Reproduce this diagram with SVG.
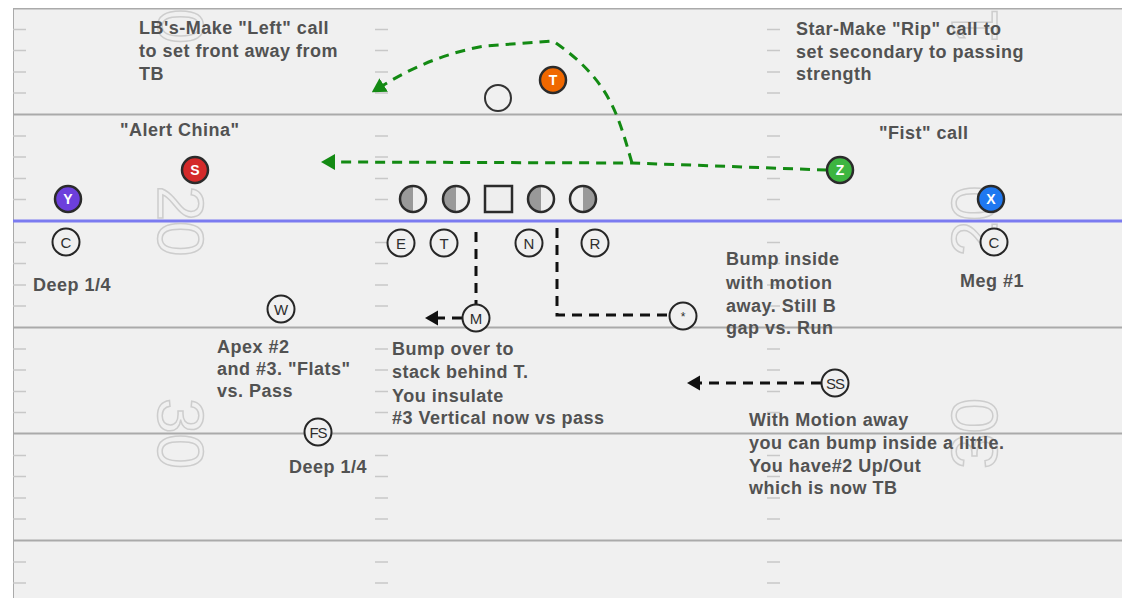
<svg xmlns="http://www.w3.org/2000/svg" width="1122" height="598" viewBox="0 0 1122 598">
  <defs>
    <style>
      .yard { stroke: #aaa; stroke-width: 2; fill: none; }
      .los { stroke: #7b7bf0; stroke-width: 3; fill: none; }
      .hash { stroke: #c8c8c8; stroke-width: 1.5; fill: none; }
      .num { font-family: "Liberation Sans", Arial, sans-serif; font-size: 64px; fill: none; stroke: #cdcdcd; stroke-width: 1.5; text-anchor: middle; }
      .note { font-family: "Liberation Sans", Arial, sans-serif; font-size: 18px; font-weight: bold; fill: #525252; letter-spacing: 0.5px; }
      .off circle { stroke: #2b2b2b; stroke-width: 2.5; }
      .off text { font-family: "Liberation Sans", Arial, sans-serif; font-size: 14px; font-weight: bold; fill: #fff; text-anchor: middle; }
      .def circle { fill: #f0f0f0; stroke: #262626; stroke-width: 2; }
      .def text { font-family: "Liberation Sans", Arial, sans-serif; font-size: 15px; fill: #2e2e2e; text-anchor: middle; }
      .lineman { stroke: #2b2b2b; stroke-width: 2.5; }
      .green { stroke: #138a13; stroke-width: 3; stroke-dasharray: 10 7; fill: none; }
      .black { stroke: #111; stroke-width: 3; stroke-dasharray: 10 7; fill: none; }
    </style>
    <clipPath id="field-clip">
      <rect x="13" y="8" width="1109" height="590"/>
    </clipPath>
    <marker id="arrow-green" viewBox="0 0 14 16" refX="2" refY="8" markerWidth="14" markerHeight="16" markerUnits="userSpaceOnUse" orient="auto">
      <path d="M0,0 L14,8 L0,16 z" fill="#138a13"/>
    </marker>
    <marker id="arrow-black" viewBox="0 0 13 16" refX="2" refY="8" markerWidth="13" markerHeight="16" markerUnits="userSpaceOnUse" orient="auto">
      <path d="M0,0.5 L13,8 L0,15.5 z" fill="#111"/>
    </marker>
  </defs>

  <rect width="1122" height="598" fill="#fff"/>

  <!-- field -->
  <g id="field" clip-path="url(#field-clip)">
    <rect x="13" y="8" width="1109" height="590" fill="#f0f0f0"/>
    <line class="yard" x1="13" y1="8" x2="13" y2="598"/>
    <path class="yard" d="M13,8.5 H1122 M13,114.5 H1122 M13,327.5 H1122 M13,433.5 H1122 M13,540.5 H1122"/>
    <path class="los" d="M13,221 H1122"/>
    <!-- hash marks: sideline and both inner hashes -->
    <g class="hash">
      <path id="tick-col" d="M13,29.5 h13 M13,50.5 h13 M13,72 h13 M13,93 h13 M13,136 h13 M13,157 h13 M13,178.5 h13 M13,199.5 h13 M13,242.5 h13 M13,263.5 h13 M13,285 h13 M13,306 h13 M13,349 h13 M13,370 h13 M13,391.5 h13 M13,412.5 h13 M13,455.5 h13 M13,476.5 h13 M13,498 h13 M13,519 h13 M13,562 h13 M13,583 h13"/>
      <use href="#tick-col" x="362"/>
      <use href="#tick-col" x="754"/>
    </g>
    <!-- yard numbers -->
    <text class="num" transform="translate(158,8.5) rotate(90)">10</text>
    <text class="num" transform="translate(158,221) rotate(90)">20</text>
    <text class="num" transform="translate(158,433.5) rotate(90)">30</text>
    <text class="num" transform="translate(997,8.5) rotate(-90)">10</text>
    <text class="num" transform="translate(997,221) rotate(-90)">20</text>
    <text class="num" transform="translate(997,433.5) rotate(-90)">30</text>
  </g>

  <!-- routes and adjustments -->
  <g id="connectors">
    <path class="green" d="M827,170 L632,163 L333,162" marker-end="url(#arrow-green)"/>
    <path class="green" d="M632,163 C618,115 610,80 553,41 L485,46 Q432,55 382,86" marker-end="url(#arrow-green)"/>
    <path class="black" d="M476,232 V304"/>
    <path class="black" d="M462,318 H436" marker-end="url(#arrow-black)"/>
    <path class="black" d="M557,228 V315 H669"/>
    <path class="black" d="M821,383 H698" marker-end="url(#arrow-black)"/>
  </g>

  <!-- offense -->
  <g id="off-T" class="off"><circle cx="553" cy="80" r="13" fill="#f06800"/><text x="553" y="85">T</text></g>
  <g id="off-B"><circle cx="498" cy="98" r="13" fill="none" stroke="#333" stroke-width="2"/></g>
  <g id="off-S" class="off"><circle cx="195" cy="170" r="13" fill="#d42a2a"/><text x="195" y="175">S</text></g>
  <g id="off-Y" class="off"><circle cx="68" cy="199" r="13" fill="#6c3fdc"/><text x="68" y="204">Y</text></g>
  <g id="off-Z" class="off"><circle cx="840" cy="170" r="13" fill="#3db540"/><text x="840" y="175">Z</text></g>
  <g id="off-X" class="off"><circle cx="991" cy="199" r="13" fill="#1f78f0"/><text x="991" y="204">X</text></g>

  <!-- offensive line -->
  <g id="ol-1" class="lineman">
    <path d="M413,186 A13,13 0 0 0 413,212 Z" fill="#999" stroke="none"/>
    <path d="M413,186 A13,13 0 0 1 413,212 Z" fill="#eee" stroke="none"/>
    <circle cx="413" cy="199" r="13" fill="none"/>
  </g>
  <g id="ol-2" class="lineman">
    <path d="M456,186 A13,13 0 0 0 456,212 Z" fill="#999" stroke="none"/>
    <path d="M456,186 A13,13 0 0 1 456,212 Z" fill="#eee" stroke="none"/>
    <circle cx="456" cy="199" r="13" fill="none"/>
  </g>
  <g id="ol-center" class="lineman"><rect x="485" y="186" width="27" height="26" fill="#eee"/></g>
  <g id="ol-3" class="lineman">
    <path d="M541,186 A13,13 0 0 0 541,212 Z" fill="#999" stroke="none"/>
    <path d="M541,186 A13,13 0 0 1 541,212 Z" fill="#eee" stroke="none"/>
    <circle cx="541" cy="199" r="13" fill="none"/>
  </g>
  <g id="ol-4" class="lineman">
    <path d="M583,186 A13,13 0 0 0 583,212 Z" fill="#eee" stroke="none"/>
    <path d="M583,186 A13,13 0 0 1 583,212 Z" fill="#999" stroke="none"/>
    <circle cx="583" cy="199" r="13" fill="none"/>
  </g>

  <!-- defense -->
  <g id="def-C-left" class="def"><circle cx="66" cy="242" r="13.5"/><text x="66" y="247.5">C</text></g>
  <g id="def-E" class="def"><circle cx="401" cy="243" r="13.5"/><text x="401" y="248.5">E</text></g>
  <g id="def-T" class="def"><circle cx="444" cy="243" r="13.5"/><text x="444" y="248.5">T</text></g>
  <g id="def-N" class="def"><circle cx="529" cy="243" r="13.5"/><text x="529" y="248.5">N</text></g>
  <g id="def-R" class="def"><circle cx="595" cy="243" r="13.5"/><text x="595" y="248.5">R</text></g>
  <g id="def-C-right" class="def"><circle cx="994" cy="242" r="13.5"/><text x="994" y="247.5">C</text></g>
  <g id="def-W" class="def"><circle cx="281" cy="309" r="13.5"/><text x="281" y="314.5">W</text></g>
  <g id="def-M" class="def"><circle cx="476" cy="318" r="13.5"/><text x="476" y="323.5">M</text></g>
  <g id="def-star" class="def"><circle cx="683" cy="316" r="13.5"/><text x="683" y="321" style="font-size:12px">*</text></g>
  <g id="def-SS" class="def"><circle cx="835" cy="383" r="13.5"/><text x="835" y="388.5" style="letter-spacing:-1px">SS</text></g>
  <g id="def-FS" class="def"><circle cx="318" cy="432" r="13.5"/><text x="318" y="437.5" style="letter-spacing:-1px">FS</text></g>

  <!-- coaching notes -->
  <g id="notes">
    <text class="note" x="139" y="34">LB's-Make "Left" call</text>
    <text class="note" x="139" y="57">to set front away from</text>
    <text class="note" x="139" y="80">TB</text>
    <text class="note" x="796" y="35">Star-Make "Rip" call to</text>
    <text class="note" x="796" y="58">set secondary to passing</text>
    <text class="note" x="796" y="80">strength</text>
    <text class="note" x="120" y="136">"Alert China"</text>
    <text class="note" x="879" y="139">"Fist" call</text>
    <text class="note" x="33" y="291">Deep 1/4</text>
    <text class="note" x="960" y="287">Meg #1</text>
    <text class="note" x="726" y="265">Bump inside</text>
    <text class="note" x="726" y="289">with motion</text>
    <text class="note" x="726" y="312">away. Still B</text>
    <text class="note" x="726" y="334">gap vs. Run</text>
    <text class="note" x="217" y="353">Apex #2</text>
    <text class="note" x="217" y="375">and #3. "Flats"</text>
    <text class="note" x="217" y="397">vs. Pass</text>
    <text class="note" x="392" y="355">Bump over to</text>
    <text class="note" x="392" y="378">stack behind T.</text>
    <text class="note" x="392" y="402">You insulate</text>
    <text class="note" x="392" y="424">#3 Vertical now vs pass</text>
    <text class="note" x="289" y="473">Deep 1/4</text>
    <text class="note" x="749" y="426">With Motion away</text>
    <text class="note" x="749" y="449">you can bump inside a little.</text>
    <text class="note" x="749" y="472">You have#2 Up/Out</text>
    <text class="note" x="749" y="494">which is now TB</text>
  </g>
</svg>
